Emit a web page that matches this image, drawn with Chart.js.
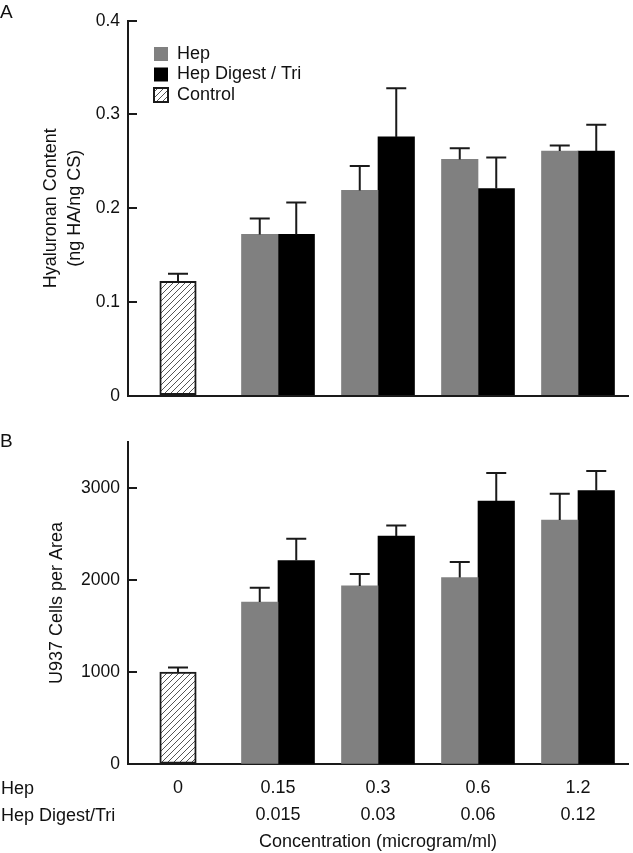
<!DOCTYPE html>
<html><head><meta charset="utf-8">
<script src="https://cdn.jsdelivr.net/npm/chart.js@4.4.0/dist/chart.umd.min.js"></script>
<style>
html,body{margin:0;padding:0;background:#fff;}
body{width:633px;height:853px;position:relative;overflow:hidden;font-family:"Liberation Sans",Arial,sans-serif;color:#111;}
canvas{position:absolute;left:0;}
#cA{top:0}
#cB{top:420px}
.lbl{position:absolute;font-size:19px;line-height:19px;white-space:nowrap;}
.row{position:absolute;left:1px;font-size:18px;line-height:27px;white-space:nowrap;}
</style></head><body>
<canvas id="cA" width="633" height="420"></canvas>
<canvas id="cB" width="633" height="433"></canvas>
<div class="lbl" style="left:0;top:2px">A</div>
<div class="lbl" style="left:0;top:431px">B</div>
<div class="row" style="top:774.5px">Hep</div>
<div class="row" style="top:801.5px">Hep Digest/Tri</div>
<script>
// ---- data ----
const hepConc = ['0', '0.15', '0.3', '0.6', '1.2'];
const digestConc = ['', '0.015', '0.03', '0.06', '0.12'];
const seriesNames = ['Hep', 'Hep Digest / Tri', 'Control'];

// Panel A: Hyaluronan content (ng HA/ng CS)
const haTicks = [0, 0.1, 0.2, 0.3, 0.4];
const hepHA = [null, 0.172, 0.219, 0.252, 0.261];
const hepHAErr = [null, 0.017, 0.026, 0.012, 0.006];
const digestHA = [null, 0.172, 0.276, 0.221, 0.261];
const digestHAErr = [null, 0.034, 0.052, 0.033, 0.028];
const controlHA = [0.122, null, null, null, null];
const controlHAErr = [0.008, null, null, null, null];

// Panel B: U937 cells per area
const cellTicks = [0, 1000, 2000, 3000];
const hepCells = [null, 1760, 1935, 2025, 2650];
const hepCellsErr = [null, 155, 130, 170, 285];
const digestCells = [null, 2210, 2475, 2855, 2970];
const digestCellsErr = [null, 235, 115, 305, 210];
const controlCells = [1000, null, null, null, null];
const controlCellsErr = [50, null, null, null, null];

// ---- styling ----
Chart.defaults.font.family = '"Liberation Sans", Arial, sans-serif';
Chart.defaults.color = '#111';
const AXIS = '#1a1a1a';
const labels = hepConc.map((h, i) => [h, digestConc[i]]);

function hatch() {
  const c = document.createElement('canvas');
  c.width = 6; c.height = 6;
  const g = c.getContext('2d');
  g.fillStyle = '#fff'; g.fillRect(0, 0, 6, 6);
  g.strokeStyle = '#555'; g.lineWidth = 1;
  g.beginPath();
  g.moveTo(0, 6); g.lineTo(6, 0);
  g.moveTo(-1, 1); g.lineTo(1, -1);
  g.moveTo(5, 7); g.lineTo(7, 5);
  g.stroke();
  return g.createPattern(c, 'repeat');
}
const hatchFill = hatch();

const errorBars = {
  id: 'errorBars',
  afterDatasetsDraw(chart) {
    const ctx = chart.ctx, ys = chart.scales.y;
    chart.data.datasets.forEach((ds, i) => {
      if (!ds.errors) return;
      const meta = chart.getDatasetMeta(i);
      meta.data.forEach((bar, j) => {
        const v = ds.data[j], e = ds.errors[j];
        if (v == null || e == null) return;
        const top = ys.getPixelForValue(v + e);
        ctx.save();
        ctx.strokeStyle = AXIS; ctx.lineWidth = 2;
        ctx.beginPath();
        ctx.moveTo(bar.x, bar.y); ctx.lineTo(bar.x, top);
        ctx.moveTo(bar.x - 10, top); ctx.lineTo(bar.x + 10, top);
        ctx.stroke();
        ctx.restore();
      });
    });
  }
};
const legendShift = {
  id: 'legendShift',
  afterLayout(chart) {
    if (chart.options.plugins.legend.display && chart.legend) {
      const ca = chart.chartArea;
      chart.legend.left = ca.left + 23.5;
      chart.legend.top = ca.top + 21.8;
      chart.legend.bottom = ca.bottom;
    }
  }
};

function yAxis(min, max, tickValues, title, titlePad, fmt) {
  return {
    min, max,
    afterBuildTicks(s) { s.ticks = tickValues.map(v => ({ value: v })); },
    ticks: { padding: 17, font: { size: 17.5 }, color: '#111', callback: fmt },
    grid: { display: true, drawOnChartArea: false, drawTicks: true, tickLength: -9, color: AXIS, lineWidth: 2 },
    border: { display: true, color: AXIS, width: 2 },
    title: { display: true, text: title, font: { size: 18, lineHeight: 1.28 }, color: '#111', padding: { top: titlePad, bottom: 0 } },
    afterFit(s) { s.width = 128; s.paddingTop = 0; s.paddingBottom = 0; }
  };
}

function datasets(hep, hepErr, dig, digErr, ctl, ctlErr) {
  return [
    { label: seriesNames[0], data: hep, errors: hepErr, backgroundColor: '#808080', borderWidth: 0 },
    { label: seriesNames[1], data: dig, errors: digErr, backgroundColor: '#000000', borderWidth: 0 },
    { label: seriesNames[2], data: ctl, errors: ctlErr, backgroundColor: hatchFill, borderColor: AXIS, borderWidth: 2, borderSkipped: false }
  ];
}

const common = {
  responsive: false,
  animation: false,
  skipNull: true,
  barThickness: 36.5,
};

new Chart(document.getElementById('cA'), {
  type: 'bar',
  data: { labels, datasets: datasets(hepHA, hepHAErr, digestHA, digestHAErr, controlHA, controlHAErr) },
  options: Object.assign({}, common, {
    layout: { padding: { top: 20.7, right: 5, left: 0, bottom: 0 } },
    plugins: {
      legend: {
        display: true, position: 'chartArea', align: 'start',
        labels: { boxWidth: 14, boxHeight: 14, padding: 2.5, font: { size: 18 }, color: '#111' }
      },
      tooltip: { enabled: false }
    },
    scales: {
      x: {
        offset: true,
        grid: { display: false, drawTicks: false },
        border: { display: true, color: AXIS, width: 2 },
        ticks: { display: false },
        afterFit(s) { s.height = 24.3; }
      },
      y: yAxis(0, 0.4, haTicks, ['Hyaluronan Content', '(ng HA/ng CS)'], 40, v => String(Math.round(v * 10) / 10))
    }
  }),
  plugins: [errorBars, legendShift]
});

new Chart(document.getElementById('cB'), {
  type: 'bar',
  data: { labels, datasets: datasets(hepCells, hepCellsErr, digestCells, digestCellsErr, controlCells, controlCellsErr) },
  options: Object.assign({}, common, {
    layout: { padding: { top: 21.6, right: 5, left: 0, bottom: 0 } },
    plugins: { legend: { display: false }, tooltip: { enabled: false } },
    scales: {
      x: {
        offset: true,
        grid: { display: false, drawTicks: false },
        border: { display: true, color: AXIS, width: 2 },
        ticks: { font: { size: 18, lineHeight: 1.5 }, padding: 10.2, maxRotation: 0, autoSkip: false, color: '#111' },
        title: { display: true, text: 'Concentration (microgram/ml)', font: { size: 18, lineHeight: 1.2 }, color: '#111', padding: { top: 0, bottom: 0.5 } },
        afterFit(s) { s.height = 88.7; }
      },
      y: yAxis(0, 3500, cellTicks, 'U937 Cells per Area', 46, v => String(v))
    }
  }),
  plugins: [errorBars, legendShift]
});
</script>
</body></html>
